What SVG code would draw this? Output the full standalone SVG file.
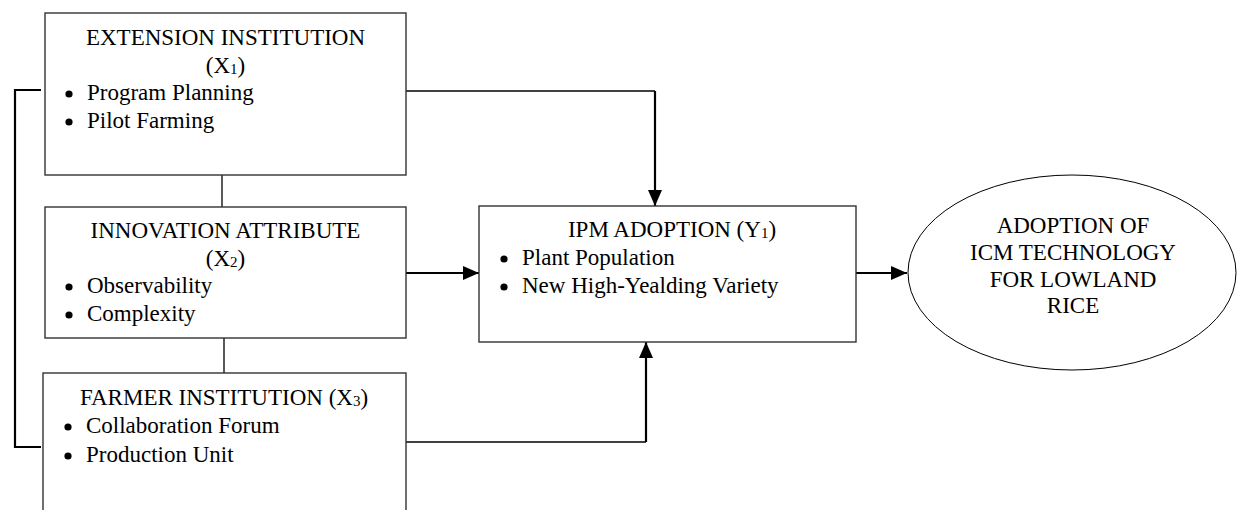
<svg xmlns="http://www.w3.org/2000/svg" width="1238" height="510" viewBox="0 0 1238 510">
<defs>
<style>
.box{fill:#fff;stroke:#333;stroke-width:1.4}
text{font-family:'Liberation Serif','Times New Roman',Times,serif;font-size:23px;fill:#000}
.c{text-anchor:middle}
.sub{font-size:15px}
.ln{fill:none;stroke:#000;stroke-width:1.3}
.thk{fill:none;stroke:#000;stroke-width:2.2}
.b{fill:#000}
</style>
<marker id="ah" markerUnits="userSpaceOnUse" markerWidth="16" markerHeight="16" viewBox="0 0 16 16" refX="16" refY="8" orient="auto">
<path d="M0,1 L16,8 L0,15 Z" fill="#000"/>
</marker>
</defs>
<g id="connectors">
<path class="thk" d="M41,90 H15 V447 H41"/>
<path class="ln" d="M222,175 V207"/>
<path class="ln" d="M224,338 V373"/>
<path class="ln" d="M406,91 H655"/>
<path class="thk" d="M655,91 V206" marker-end="url(#ah)"/>
<path class="thk" d="M406,273 H479" marker-end="url(#ah)"/>
<path class="ln" d="M406,442 H646"/>
<path class="thk" d="M646,442 V342" marker-end="url(#ah)"/>
<path class="thk" d="M856,273 H907" marker-end="url(#ah)"/>
</g>
<g id="x1" font-family="Liberation Serif, serif">
<rect class="box" x="45" y="13" width="361" height="162"/>
<text class="c" x="225.5" y="45">EXTENSION INSTITUTION</text>
<text class="c" x="225.5" y="73">(X<tspan class="sub" dy="1">1</tspan><tspan dy="-1">)</tspan></text>
<circle class="b" cx="69" cy="94" r="3.6"/><text x="87" y="100">Program Planning</text>
<circle class="b" cx="69" cy="122" r="3.6"/><text x="87" y="128">Pilot Farming</text>
</g>
<g id="x2" font-family="Liberation Serif, serif">
<rect class="box" x="45" y="207" width="361" height="131"/>
<text class="c" x="225.5" y="238">INNOVATION ATTRIBUTE</text>
<text class="c" x="225.5" y="266">(X<tspan class="sub" dy="1">2</tspan><tspan dy="-1">)</tspan></text>
<circle class="b" cx="69" cy="287" r="3.6"/><text x="87" y="293">Observability</text>
<circle class="b" cx="69" cy="315" r="3.6"/><text x="87" y="321">Complexity</text>
</g>
<g id="x3" font-family="Liberation Serif, serif">
<rect class="box" x="43" y="373" width="363" height="150"/>
<text class="c" x="224" y="405">FARMER INSTITUTION (X<tspan class="sub" dy="1">3</tspan><tspan dy="-1">)</tspan></text>
<circle class="b" cx="68" cy="427" r="3.6"/><text x="86" y="433">Collaboration Forum</text>
<circle class="b" cx="68" cy="456" r="3.6"/><text x="86" y="462">Production Unit</text>
</g>
<g id="y1" font-family="Liberation Serif, serif">
<rect class="box" x="479" y="206" width="377" height="136"/>
<text class="c" x="672" y="237">IPM ADOPTION (Y<tspan class="sub" dy="1">1</tspan><tspan dy="-1">)</tspan></text>
<circle class="b" cx="504" cy="259" r="3.6"/><text x="522" y="265">Plant Population</text>
<circle class="b" cx="504" cy="287" r="3.6"/><text x="522" y="293">New High-Yealding Variety</text>
</g>
<g id="icm" font-family="Liberation Serif, serif">
<ellipse cx="1072" cy="272.5" rx="164" ry="97.5" fill="#fff" stroke="#000" stroke-width="1"/>
<text class="c" x="1073" y="233">ADOPTION OF</text>
<text class="c" x="1073" y="260">ICM TECHNOLOGY</text>
<text class="c" x="1073" y="287">FOR LOWLAND</text>
<text class="c" x="1073" y="313">RICE</text>
</g>
</svg>
